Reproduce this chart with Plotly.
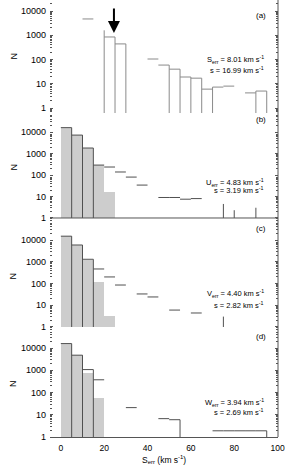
import plotly.graph_objects as go
from plotly.subplots import make_subplots
import math

# ---------------- data ----------------
BIN_W = 5
bin_lo = list(range(0, 100, BIN_W))          # 0,5,...,95

# open (line) histograms, one value per 5 km/s bin (None = not drawn)
a_open = [None, None, 4700, None, 850, 440, None, None, 105, 59,
          40, 19, 17, 6, 7.3, 8, None, 4.2, 5, None]
b_open = [16000, 7200, 1800, 290, 235, 138, 80, 34, None, 9,
          9, 7.5, 8, None, None, None, None, None, None, None]
c_open = [15000, 5900, 1300, 465, 200, 85, None, 33, 24, None,
          6, None, 4.4, None, None, None, None, None, None, None]
d_open = [16000, 4800, 1080, 375, None, None, 21, None, None, 6.7,
          6, None, None, None, 1.9, 1.9, 1.9, 1.9, 1.9, None]

# filled (grey) histograms
b_fill = [15500, 7200, 1800, 290, 15]
c_fill = [15000, 5900, 1200, 117, 2.1]
d_fill = [15000, 4800, 790, 56]

# vertical bin-edge lines visible in each panel: edge position and top value
a_edge_x = [20, 25, 30, 50, 55, 60, 65, 70, 90, 95]
a_edge_top = [1600, 850, 440, 59, 40, 19, 17, 7.3, 5, 5]
b_edge_x = [5, 10, 15, 75, 80, 90]
b_edge_top = [16000, 7200, 1800, 4.5, 2.3, 3]
c_edge_x = [5, 10, 15, 75]
c_edge_top = [15000, 5900, 1300, 3]
d_edge_x = [5, 10, 15, 55, 95]
d_edge_top = [16000, 4800, 1080, 6, 1.9]

panel_tags = ["(a)", "(b)", "(c)", "(d)"]
stat_line1 = ["S<sub>err</sub> = 8.01 km s<sup>-1</sup>",
              "U<sub>err</sub> = 4.83 km s<sup>-1</sup>",
              "V<sub>err</sub> = 4.40 km s<sup>-1</sup>",
              "W<sub>err</sub> = 3.94 km s<sup>-1</sup>"]
stat_line2 = ["s = 16.99 km s<sup>-1</sup>",
              "s = 3.19 km s<sup>-1</sup>",
              "s = 2.82 km s<sup>-1</sup>",
              "s = 2.69 km s<sup>-1</sup>"]

x_ticks = [0, 20, 40, 60, 80, 100]
y_ticks = [1, 10, 100, 1000, 10000]
arrow_x = 24.5
arrow_tip = 1230
arrow_tail = 14500

# ---------------- styling ----------------
FONT = "Liberation Sans, Arial, sans-serif"
GREY_FILL = "#cdcdcd"
LINE_A = "#8a8a8a"
LINE = "#505050"
AX = "#555555"

y_ranges = [[-0.206, 4.454], [-0.186, 4.884], [-0.184, 4.828], [0.0, 4.77]]
domains = [[0.7414, 1.0], [0.4920, 0.7414], [0.2426, 0.4920], [0.0, 0.2426]]
edge_bottom = [0.3, 1, 1, 1]

fig = make_subplots(rows=4, cols=1, shared_xaxes=True, vertical_spacing=0)

opens = [a_open, b_open, c_open, d_open]
fills = [None, b_fill, c_fill, d_fill]
edges = [(a_edge_x, a_edge_top), (b_edge_x, b_edge_top),
         (c_edge_x, c_edge_top), (d_edge_x, d_edge_top)]

for i in range(4):
    row = i + 1
    lc = LINE_A if i == 0 else LINE
    # grey filled bars
    if fills[i] is not None:
        vals = fills[i]
        fig.add_trace(go.Bar(
            x=[lo + BIN_W / 2 for lo in bin_lo[:len(vals)]], y=vals,
            width=BIN_W, base=1, marker=dict(color=GREY_FILL, line=dict(width=0)),
            showlegend=False, hoverinfo="skip"), row=row, col=1)
    # horizontal tops of open histogram
    xs, ys = [], []
    for lo, v in zip(bin_lo, opens[i]):
        if v is None:
            continue
        xs += [lo, lo + BIN_W, None]
        ys += [v, v, None]
    fig.add_trace(go.Scatter(x=xs, y=ys, mode="lines",
                             line=dict(color=lc, width=1),
                             showlegend=False, hoverinfo="skip"), row=row, col=1)
    # vertical edges
    ex, ey = [], []
    for e, t in zip(*edges[i]):
        ex += [e, e, None]
        ey += [edge_bottom[i], t, None]
    fig.add_trace(go.Scatter(x=ex, y=ey, mode="lines",
                             line=dict(color=lc, width=1),
                             showlegend=False, hoverinfo="skip"), row=row, col=1)

fig.update_layout(
    width=288, height=471,
    margin=dict(l=50, r=10, t=0, b=34),
    paper_bgcolor="white", plot_bgcolor="white",
    bargap=0, barmode="overlay",
    font=dict(family=FONT, size=9, color="black"),
    showlegend=False,
)

for i in range(4):
    yk = "yaxis" if i == 0 else f"yaxis{i+1}"
    xk = "xaxis" if i == 0 else f"xaxis{i+1}"
    fig.layout[yk].update(
        type="log", range=y_ranges[i], domain=domains[i],
        tickvals=y_ticks, ticktext=[str(v) for v in y_ticks],
        ticks="inside", ticklen=3, tickcolor=AX, mirror="ticks",
        showline=False, showgrid=False, zeroline=False,
        tickfont=dict(size=9), ticklabelstandoff=3,
        minor=dict(ticks="inside", ticklen=2, tickcolor=AX, dtick="D1", showgrid=False),
    )
    fig.layout[xk].update(
        range=[-5, 100.2], showgrid=False, zeroline=False, ticks="",
        showline=(i == 3), linecolor=AX, linewidth=1,
        tickvals=x_ticks, showticklabels=(i == 3),
        tickfont=dict(size=8.5), ticklabelstandoff=3,
        ticklabeloverflow="allow",
    )
    yref = "y" if i == 0 else f"y{i+1}"
    xref = "x" if i == 0 else f"x{i+1}"
    # right-hand axis line
    fig.add_shape(type="line", xref=f"{xref} domain", yref=f"{yref} domain",
                  x0=1, x1=1, y0=0, y1=1, line=dict(color=AX, width=1))
    # "N" axis title
    fig.add_annotation(text="N", xref="paper", yref=f"{yref} domain",
                       x=-0.162, y=0.5, showarrow=False, textangle=-90,
                       font=dict(size=9), xanchor="center", yanchor="middle")

# baseline at N = 1 in panel (b)
fig.add_shape(type="line", xref="x2 domain", yref="y2", x0=0, x1=1, y0=1, y1=1,
              line=dict(color=AX, width=1))

tag_y = [3.83, 4.56, 4.55, 4.5]
s1_y = [2.02, 1.67, 1.56, 1.55]
s2_y = [1.57, 1.30, 1.01, 1.14]
for i in range(4):
    yref = "y" if i == 0 else f"y{i+1}"
    xref = "x" if i == 0 else f"x{i+1}"
    fig.add_annotation(text=panel_tags[i], xref=xref, yref=yref, x=92.2, y=tag_y[i],
                       showarrow=False, font=dict(size=8, color="black"),
                       xanchor="center", yanchor="middle")
    fig.add_annotation(text=stat_line1[i], xref=xref, yref=yref, x=94.5, y=s1_y[i],
                       showarrow=False, font=dict(size=7.5, color="black"),
                       xanchor="right", yanchor="middle")
    fig.add_annotation(text=stat_line2[i], xref=xref, yref=yref, x=94.5, y=s2_y[i],
                       showarrow=False, font=dict(size=7.5, color="black"),
                       xanchor="right", yanchor="middle")

# arrow in panel (a)
fig.add_annotation(x=arrow_x, y=math.log10(arrow_tip), ax=arrow_x, ay=math.log10(arrow_tail),
                   xref="x", yref="y", axref="x", ayref="y", text="", showarrow=True,
                   arrowhead=2, arrowsize=1.2, arrowwidth=2, arrowcolor="black")

# x-axis title
fig.add_annotation(text="S<sub>err</sub> (km s<sup>-1</sup>)", xref="paper", yref="paper",
                   x=0.5, y=-0.069, showarrow=False, font=dict(size=8.5, color="black"),
                   xanchor="center", yanchor="bottom")

fig.write_html("out.html",
               config={"displayModeBar": False},
               post_script="document.body.style.margin='0';document.body.style.overflow='hidden';")
